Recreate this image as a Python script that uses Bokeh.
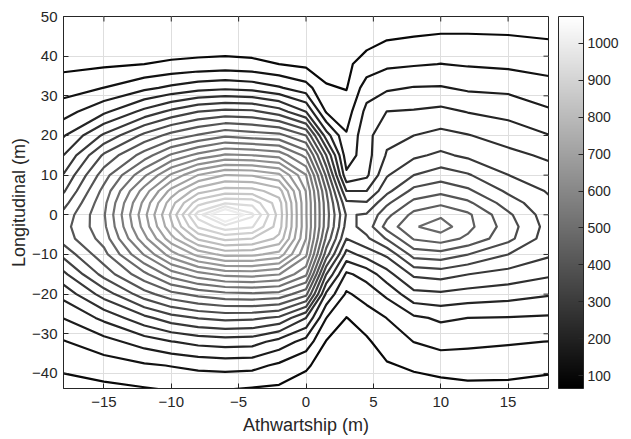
import numpy as np
from bokeh.plotting import figure
from bokeh.models import LinearColorMapper, ColorBar, FixedTicker, Range1d
from bokeh.embed import file_html
from bokeh.resources import INLINE

# grid positions (m)
athwartship = [-18, -15, -12, -10, -8, -6, -4, -2, 0, 1.5, 3, 4.5, 6, 8, 10, 12, 15, 18]
longitudinal = [-44, -38, -32, -26, -20, -15, -10, -6, -3, 0, 3, 6, 10, 15, 20, 26, 32, 38, 44, 50]

# field values, one row per longitudinal position (bottom to top)
row_m44 = [82, 91, 97, 102, 103, 101, 96, 93, 87, 81, 76, 79, 83, 83, 83, 89, 89, 84]
row_m38 = [109, 119, 132, 139, 147, 151, 149, 130, 104, 87, 81, 85, 96, 106, 117, 119, 117, 110]
row_m32 = [135, 161, 192, 211, 225, 231, 228, 198, 160, 98, 89, 94, 119, 138, 149, 145, 141, 137]
row_m26 = [176, 222, 277, 309, 327, 336, 333, 318, 250, 138, 99, 119, 138, 168, 181, 175, 173, 170]
row_m20 = [225, 304, 384, 425, 449, 464, 469, 462, 411, 205, 132, 153, 183, 239, 243, 235, 228, 216]
row_m15 = [278, 376, 465, 530, 573, 599, 603, 589, 520, 288, 168, 190, 235, 295, 303, 288, 273, 256]
row_m10 = [336, 425, 553, 645, 712, 749, 747, 723, 595, 381, 235, 265, 295, 378, 385, 363, 325, 293]
row_m6 = [379, 453, 613, 724, 819, 861, 850, 803, 625, 430, 288, 318, 366, 441, 456, 430, 374, 304]
row_m3 = [385, 466, 640, 766, 893, 948, 929, 829, 631, 453, 310, 340, 415, 471, 494, 449, 381, 310]
row_0 = [374, 471, 651, 783, 944, 1073, 970, 835, 629, 456, 321, 329, 389, 449, 468, 445, 370, 304]
row_3 = [348, 464, 636, 759, 873, 919, 912, 828, 629, 453, 295, 291, 355, 411, 430, 408, 344, 295]
row_6 = [320, 450, 605, 713, 797, 831, 828, 792, 623, 438, 250, 250, 314, 374, 389, 370, 318, 284]
row_10 = [290, 420, 543, 631, 701, 738, 734, 708, 589, 393, 183, 205, 284, 325, 344, 329, 288, 267]
row_15 = [250, 369, 455, 518, 562, 593, 588, 573, 501, 325, 153, 198, 254, 280, 295, 280, 261, 243]
row_20 = [209, 294, 373, 414, 442, 468, 456, 449, 400, 231, 141, 201, 239, 250, 261, 252, 233, 214]
row_26 = [159, 205, 262, 297, 325, 336, 333, 306, 250, 134, 119, 186, 213, 216, 222, 211, 201, 180]
row_32 = [121, 138, 166, 183, 198, 205, 198, 179, 153, 104, 98, 156, 169, 177, 178, 169, 166, 151]
row_38 = [89, 94, 100, 106, 110, 113, 109, 100, 91, 83, 93, 115, 130, 134, 138, 134, 130, 124]
row_44 = [68, 70, 72, 73, 74, 74, 74, 73, 73, 72, 77, 89, 100, 104, 108, 108, 106, 101]
row_50 = [65, 66, 66, 67, 67, 67, 67, 67, 66, 66, 68, 72, 76, 78, 79, 79, 79, 78]

field_rows = [row_m44, row_m38, row_m32, row_m26, row_m20, row_m15, row_m10, row_m6, row_m3,
              row_0, row_3, row_6, row_10, row_15, row_20, row_26, row_32, row_38, row_44, row_50]

contour_levels = [100, 137.5, 175, 212.5, 250, 287.5, 325, 362.5, 400, 437.5, 475, 512.5,
                  550, 587.5, 625, 662.5, 700, 737.5, 775, 812.5, 850, 887.5, 925, 962.5, 1000]
colorbar_ticks = [100, 200, 300, 400, 500, 600, 700, 800, 900, 1000]
x_ticks = [-15, -10, -5, 0, 5, 10, 15]
y_ticks = [-40, -30, -20, -10, 0, 10, 20, 30, 40, 50]

X_LO, X_HI = -18, 18
Y_LO, Y_HI = -43.8, 50

Z = np.array(field_rows, dtype=float)
zmin, zmax = float(Z.min()), float(Z.max())

gray_palette = ["#%02x%02x%02x" % (i, i, i) for i in range(256)]


def level_color(v):
    g = int(round(255 * (v - zmin) / (zmax - zmin)))
    g = max(0, min(255, g))
    return "#%02x%02x%02x" % (g, g, g)


level_colors = [level_color(v) for v in contour_levels]

FONT = "Liberation Sans"
TXT = "#262626"

W, H = 631, 439
BL, BR, BT, BB = 63, 83, 16, 51
FW, FH = W - BL - BR, H - BT - BB

p = figure(width=W, height=H, x_range=Range1d(X_LO, X_HI), y_range=Range1d(Y_LO, Y_HI),
           output_backend="svg", toolbar_location=None,
           min_border_left=BL, min_border_right=BR, min_border_top=BT, min_border_bottom=BB)

p.background_fill_color = "white"
p.border_fill_color = "white"
p.outline_line_color = TXT
p.outline_line_width = 1

p.contour(x=athwartship, y=longitudinal, z=Z, levels=contour_levels,
          line_color=level_colors, line_width=2.2, line_join="round")

p.xaxis.ticker = FixedTicker(ticks=x_ticks)
p.yaxis.ticker = FixedTicker(ticks=y_ticks)
p.xaxis.axis_label = "Athwartship (m)"
p.yaxis.axis_label = "Longitudinal (m)"
for ax in (p.xaxis[0], p.yaxis[0]):
    ax.axis_label_text_font = FONT
    ax.axis_label_text_font_size = "18px"
    ax.axis_label_text_font_style = "normal"
    ax.axis_label_text_color = TXT
    ax.major_label_text_font = FONT
    ax.major_label_text_font_size = "15px"
    ax.major_label_text_color = TXT
    ax.axis_line_color = TXT
    ax.major_tick_line_color = TXT
    ax.major_tick_in = 5
    ax.major_tick_out = 0
    ax.minor_tick_line_color = None
p.xaxis.major_label_standoff = 8
p.xaxis.axis_label_standoff = 5
p.yaxis.major_label_standoff = 6
p.yaxis.axis_label_standoff = 0

p.grid.grid_line_color = "#dedede"
p.grid.grid_line_width = 1

# mirrored ticks on the top and right edges of the box (5 px long)
tick_px = 5
dy_tick = tick_px * (Y_HI - Y_LO) / FH
dx_tick = tick_px * (X_HI - X_LO) / FW
p.segment(x0=x_ticks, y0=[Y_HI] * len(x_ticks), x1=x_ticks, y1=[Y_HI - dy_tick] * len(x_ticks),
          line_color=TXT, line_width=1)
p.segment(x0=[X_HI] * len(y_ticks), y0=y_ticks, x1=[X_HI - dx_tick] * len(y_ticks), y1=y_ticks,
          line_color=TXT, line_width=1)

mapper = LinearColorMapper(palette=gray_palette, low=zmin, high=zmax)
cb = ColorBar(color_mapper=mapper, ticker=FixedTicker(ticks=colorbar_ticks), width=25, height=FH,
              location=(10, 0), padding=0, margin=0, bar_line_color=TXT, bar_line_width=1,
              major_tick_line_color=TXT, major_tick_in=5, major_tick_out=0,
              minor_tick_line_color=None, label_standoff=4,
              major_label_text_font=FONT, major_label_text_font_size="14px",
              major_label_text_color=TXT, background_fill_color=None,
              border_line_color=None)
p.add_layout(cb, "right")

open("out.html", "w").write(file_html(p, INLINE))
